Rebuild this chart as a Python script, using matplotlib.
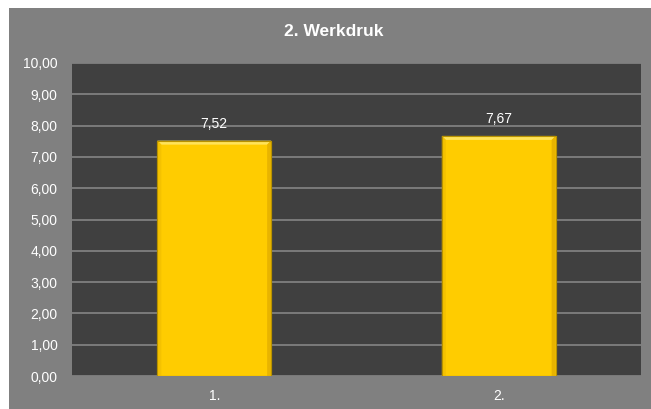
import matplotlib.pyplot as plt
from matplotlib.patches import Rectangle, Polygon

plt.rcParams["font.family"] = ["Liberation Sans", "DejaVu Sans"]

# data
categories = ["1.", "2."]
values = [7.52, 7.67]
title = "2. Werkdruk"

W, H = 651, 409
fig = plt.figure(figsize=(W / 100, H / 100), dpi=100, facecolor="white")

# grey chart area (white strip on top and left), drawn behind the axes
fig.patches.append(Rectangle((9 / W, 0), 1 - 9 / W, 1 - 8 / H,
                             transform=fig.transFigure, facecolor="#808080",
                             edgecolor="none", zorder=-10))

ax = fig.add_axes([72 / W, 1 - 376 / H, (641 - 72) / W, (376 - 63) / H])
ax.set_zorder(1)
ax.set_facecolor("#404040")

ax.set_xlim(-0.5, 1.5)
ax.set_ylim(0, 10)

x = list(range(len(categories)))
bars = ax.bar(x, values, width=0.4, color="#FFCC00", edgecolor="#B89200",
              linewidth=0.8, zorder=3)

# bevel look: light top, darker sides/bottom (about 4 px deep)
bx = 4 / 284.5
by = 4 / 31.3
for b in bars:
    x0, x1 = b.get_x(), b.get_x() + b.get_width()
    y0, y1 = 0, b.get_height()
    faces = [
        ([(x0, y1), (x1, y1), (x1 - bx, y1 - by), (x0 + bx, y1 - by)], "#FFE35A"),
        ([(x0, y0), (x0, y1), (x0 + bx, y1 - by), (x0 + bx, y0)], "#F5C200"),
        ([(x1, y0), (x1, y1), (x1 - bx, y1 - by), (x1 - bx, y0)], "#E8B400"),
    ]
    for pts, c in faces:
        ax.add_patch(Polygon(pts, closed=True, facecolor=c, edgecolor="none",
                             zorder=4))
    ax.add_patch(Rectangle((x0, y0), x1 - x0, y1 - y0, facecolor="none",
                           edgecolor="#B89200", linewidth=0.8, zorder=5))

for xi, v in zip(x, values):
    ax.annotate(f"{v:.2f}".replace(".", ","), (xi, v), xytext=(0, 7),
                textcoords="offset points", ha="center", va="bottom",
                color="white", fontsize=10, zorder=6)

ax.set_yticks(range(0, 11))
ax.set_yticklabels([f"{t:.2f}".replace(".", ",") for t in range(0, 11)])
ax.set_xticks(x)
ax.set_xticklabels(categories)
ax.yaxis.grid(True, color="#858585", linewidth=1.2, zorder=1)
ax.set_axisbelow(True)

ax.tick_params(axis="both", length=0, colors="white", labelsize=10)
ax.tick_params(axis="y", pad=10.5)
ax.tick_params(axis="x", pad=9)
for s in ax.spines.values():
    s.set_visible(False)

fig.text(334 / W, 1 - 31 / H, title, ha="center", va="center",
         color="white", fontsize=12.5, fontweight="bold")

fig.savefig("out.png", dpi=100, facecolor=fig.get_facecolor())
